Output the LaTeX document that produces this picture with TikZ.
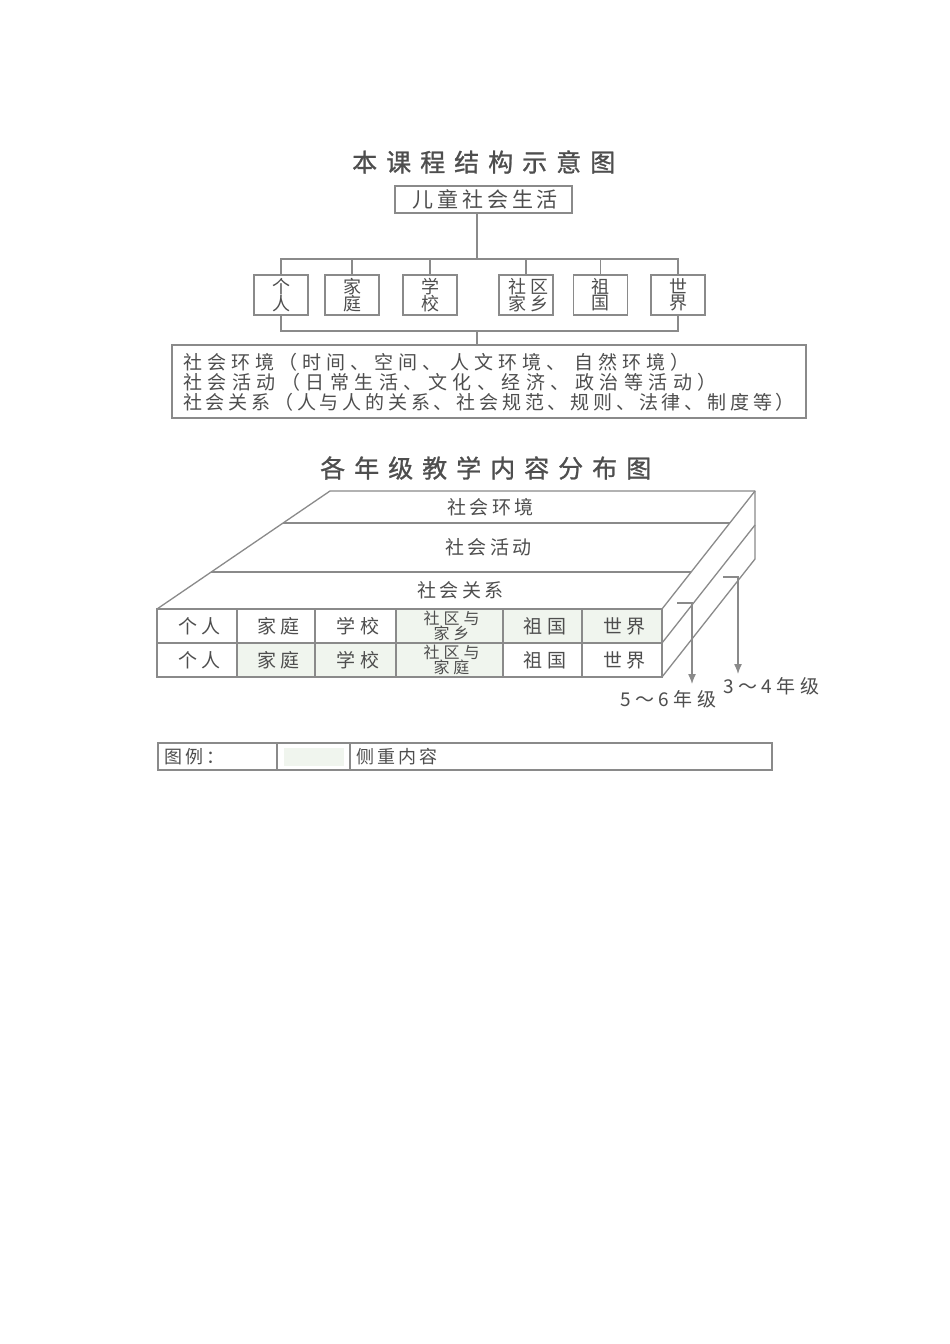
\documentclass[tikz,border=0pt]{standalone}
\usepackage{fontspec}
\setmainfont{Noto Sans CJK SC}
\newfontfamily\titlefont[LetterSpace=36,FakeBold=1]{Noto Sans CJK SC}
\newfontfamily\spfont[LetterSpace=18]{Noto Sans CJK SC}
\newfontfamily\gfont[LetterSpace=24]{Noto Sans CJK SC}
\newfontfamily\lnfontA[LetterSpace=26]{Noto Sans CJK SC}
\newfontfamily\lnfontB[LetterSpace=29]{Noto Sans CJK SC}
\newfontfamily\lnfontC[LetterSpace=20]{Noto Sans CJK SC}
\newfontfamily\wfont[LetterSpace=25]{Noto Sans CJK SC}
\usetikzlibrary{arrows.meta,calc}
\definecolor{ln}{HTML}{8A8A8A}
\definecolor{tx}{HTML}{4E4E4E}
\definecolor{shade}{HTML}{F0F5EE}
\tikzset{
  ttl/.style={anchor=west,inner sep=0pt,text=tx,font=\titlefont\fontsize{25}{27}\selectfont},
  boxnode/.style={draw=ln,line width=1.3pt,inner sep=0pt,text=tx},
  sbox/.style={boxnode,minimum width=54pt,minimum height=40pt,align=center,font=\fontsize{18}{16}\selectfont},
  txt/.style={inner sep=0pt,text=tx,font=\spfont\fontsize{19}{20}\selectfont},
  linetxt/.style={anchor=west,inner sep=0pt,text=tx},
  cell/.style={draw=ln,line width=1.3pt,inner sep=0pt,minimum height=34pt,align=center,text=tx,font=\wfont\fontsize{19}{16}\selectfont},
  cellii/.style={cell,font=\wfont\fontsize{16}{15}\selectfont},
  conn/.style={draw=ln,line width=1.3pt},
  arr/.style={conn,-{Latex[length=10pt,width=8pt]}},
}
\begin{document}
\begin{tikzpicture}[x=1pt,y=-1pt]
\useasboundingbox (0,0) rectangle (950,1344);
\fill[white] (0,0) rectangle (950,1344);

% ---------- diagram 1 ----------
\node[ttl] (t1) at (352,162) {本课程结构示意图};
\node[boxnode,minimum width=177pt,minimum height=27pt,font=\spfont\fontsize{21}{22}\selectfont] (root) at (483.5,199.5) {儿童社会生活\kern-3.8pt};

\node[sbox] (b1) at (281,295) {个\\人};
\node[sbox] (b2) at (352,295) {家\\庭};
\node[sbox] (b3) at (430,295) {学\\校};
\node[sbox,font=\wfont\fontsize{18}{16}\selectfont] (b4) at (526,295) {社区\kern-4.5pt\\家乡\kern-4.5pt};
\node[sbox] (b5) at (600.5,295) {祖\\国};
\node[sbox] (b6) at (678,295) {世\\界};

\coordinate (topmid) at (477,259);
\coordinate (botmid) at (477,331);
\draw[conn] ([xshift=-6.5pt]root.south) -- (topmid);
\draw[conn] (b1.north) |- (topmid) -| (b6.north);
\foreach \b in {b2,b3,b4,b5} \draw[conn] (\b.north) -- (\b.north |- topmid);
\draw[conn] (b1.south) |- (botmid) -| (b6.south);

\node[boxnode,minimum width=634pt,minimum height=73pt] (big) at (489,381.5) {};
\draw[conn] (botmid) -- (botmid |- big.north);
\node[linetxt,font=\lnfontA\fontsize{19}{20}\selectfont] (l1) at (183,362) {社会环境（时间、空间、 人文环境、 自然环境）};
\node[linetxt,font=\lnfontB\fontsize{19}{20}\selectfont] (l2) at (183,382) {社会活动（日常生活、文化、经济、政治等活动）};
\node[linetxt,font=\lnfontC\fontsize{19}{20}\selectfont] (l3) at (183,402) {社会关系（人与人的关系、社会规范、规则、法律、制度等）};

% ---------- diagram 2 ----------
\node[ttl] (t2) at (320,468) {各年级教学内容分布图};

% table cells (front face)
\node[cell,minimum width=80pt]  (r1c1) at (197,626) {个人\kern-4.75pt};
\node[cell,minimum width=78pt]  (r1c2) at (276,626) {家庭\kern-4.75pt};
\node[cell,minimum width=81pt]  (r1c3) at (355.5,626) {学校\kern-4.75pt};
\node[cellii,minimum width=107pt,fill=shade] (r1c4) at (449.5,626) {社区与\kern-4pt\\家乡\kern-4pt};
\node[cell,minimum width=79pt,fill=shade]  (r1c5) at (542.5,626) {祖国\kern-4.75pt};
\node[cell,minimum width=80pt,fill=shade]  (r1c6) at (622,626) {世界\kern-4.75pt};
\node[cell,minimum width=80pt]  (r2c1) at (197,660) {个人\kern-4.75pt};
\node[cell,minimum width=78pt,fill=shade]  (r2c2) at (276,660) {家庭\kern-4.75pt};
\node[cell,minimum width=81pt,fill=shade]  (r2c3) at (355.5,660) {学校\kern-4.75pt};
\node[cellii,minimum width=107pt,fill=shade] (r2c4) at (449.5,660) {社区与\kern-4pt\\家庭\kern-4pt};
\node[cell,minimum width=79pt]  (r2c5) at (542.5,660) {祖国\kern-4.75pt};
\node[cell,minimum width=80pt]  (r2c6) at (622,660) {世界\kern-4.75pt};

% top face and right face
\draw[conn,line join=round] (157,609) -- (330,491) -- (755,491) -- (755,559) -- (662,677);
\draw[conn] (662,609) -- (755,491);
\draw[conn] (662,643) -- (755,525);
\draw[conn] (283,523) -- (729.8,523);
\draw[conn] (211,572) -- (691,572);

\node[txt] (s1) at (489,507) {社会环境\kern-3.4pt};
\node[txt] (s2) at (487,547) {社会活动\kern-3.4pt};
\node[txt] (s3) at (459,590) {社会关系\kern-3.4pt};

% grade arrows
\coordinate (a1s) at (677,603);
\coordinate (a1c) at (692,603);
\coordinate (a1e) at (692,684);
\coordinate (a2s) at (723,577);
\coordinate (a2c) at (738,577);
\coordinate (a2e) at (738,674);
\draw[arr] (a1s) -- (a1c) -- (a1e);
\draw[arr] (a2s) -- (a2c) -- (a2e);
\node[txt,font=\gfont\fontsize{19}{19}\selectfont] (g56) at (666,699) {5～6年级\kern-4.5pt};
\node[txt,font=\gfont\fontsize{19}{19}\selectfont] (g34) at (769,686) {3～4年级\kern-4.5pt};

% legend
\node[boxnode,minimum width=119pt,minimum height=27pt] (lg1) at (217.5,756.5) {};
\node[boxnode,minimum width=73pt,minimum height=27pt] (lg2) at (313.5,756.5) {};
\node[boxnode,minimum width=422pt,minimum height=27pt] (lg3) at (561,756.5) {};
\node[fill=shade,inner sep=0pt,minimum width=60pt,minimum height=18pt] (sw) at (314,756.5) {};
\node[txt,anchor=west,font=\spfont\fontsize{18}{19}\selectfont] (lgt1) at (164,757) {图例：};
\node[txt,anchor=west,font=\spfont\fontsize{18}{19}\selectfont] (lgt2) at (356,757) {侧重内容};
\end{tikzpicture}
\end{document}
